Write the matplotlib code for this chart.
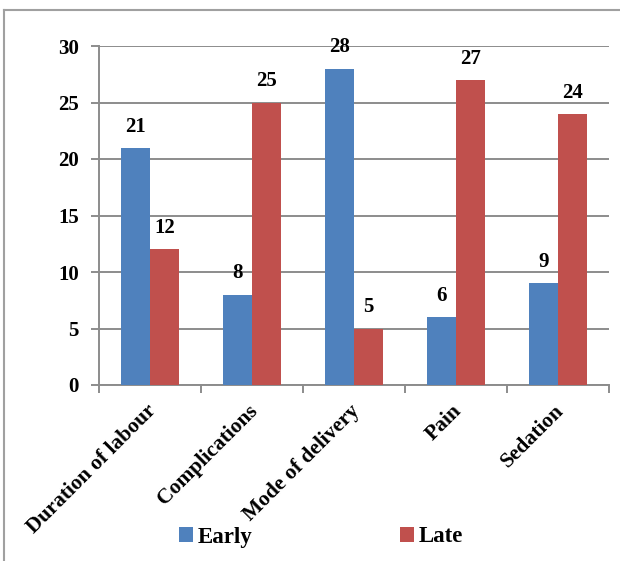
import matplotlib
matplotlib.use("Agg")
import matplotlib.pyplot as plt
import matplotlib.transforms as mtransforms
import numpy as np
from matplotlib.patches import Patch
from matplotlib.lines import Line2D

categories = ["Duration of labour", "Complications", "Mode of delivery", "Pain", "Sedation"]
early = [21, 8, 28, 6, 9]
late = [12, 25, 5, 27, 24]
series_names = ["Early", "Late"]
y_ticks = [0, 5, 10, 15, 20, 25, 30]

BLUE = "#4f81bd"
RED = "#c0504d"
GRID = "#8c8c8c"

plt.rcParams["font.family"] = ["Liberation Serif", "DejaVu Serif"]
plt.rcParams["font.weight"] = "bold"

W, H = 620, 561
fig = plt.figure(figsize=(W / 100, H / 100), dpi=100)
ax = fig.add_axes([99 / W, 1 - 385 / H, (609 - 99) / W, (385 - 46) / H])

x = np.arange(len(categories))
bw = 0.285
ax.bar(x - bw / 2, early, bw, color=BLUE, zorder=3)
ax.bar(x + bw / 2, late, bw, color=RED, zorder=3)

for xi, v in zip(x - bw / 2, early):
    ax.annotate(str(v), (xi, v), xytext=(0, 8), textcoords="offset points",
                ha="center", va="bottom", fontsize=15, fontweight="bold")
for xi, v in zip(x + bw / 2, late):
    ax.annotate(str(v), (xi, v), xytext=(0, 8), textcoords="offset points",
                ha="center", va="bottom", fontsize=15, fontweight="bold")

ax.set_xlim(-0.5, len(categories) - 0.5)
ax.set_ylim(0, 30)
ax.set_yticks(y_ticks)
ax.set_yticklabels([str(t) for t in y_ticks], fontsize=15, fontweight="bold")
ax.yaxis.grid(True, color=GRID, linewidth=1.4, zorder=0)
ax.set_axisbelow(True)

# category ticks sit between groups; slanted labels at group centres
ax.set_xticks(np.arange(len(categories) + 1) - 0.5)
ax.set_xticklabels([])
ax.tick_params(axis="x", which="major", length=6, width=1.4, color=GRID)
ax.tick_params(axis="y", length=6, width=1.4, color=GRID, pad=8.5)

label_tf = ax.get_xaxis_transform() + mtransforms.ScaledTranslation(
    -4 / 100, -16 / 100, fig.dpi_scale_trans)
for xi, name in zip(x, categories):
    ax.text(xi, 0, name, transform=label_tf, rotation=45, ha="right", va="top",
            rotation_mode="anchor", fontsize=15.5, fontweight="bold")

for s in ["top", "right"]:
    ax.spines[s].set_visible(False)
for s in ["left", "bottom"]:
    ax.spines[s].set_color(GRID)
    ax.spines[s].set_linewidth(1.4)

handles = [Patch(facecolor=BLUE, label=series_names[0]),
           Patch(facecolor=RED, label=series_names[1])]
fig.legend(handles=handles, loc="center", bbox_to_anchor=(321 / W, 1 - 537 / H),
           ncol=2, frameon=False, handlelength=0.6, handleheight=0.6,
           handletextpad=0.2, columnspacing=6.45,
           prop={"weight": "bold", "size": 16.5})

# outer chart frame (left and top edges)
fig.add_artist(Line2D([4 / W, 4 / W], [0, 1 - 10 / H], color="#a0a0a0", linewidth=1.5,
                      transform=fig.transFigure))
fig.add_artist(Line2D([4 / W, 1], [1 - 10 / H, 1 - 10 / H], color="#a0a0a0", linewidth=1.5,
                      transform=fig.transFigure))

fig.savefig("out.png", dpi=100)
